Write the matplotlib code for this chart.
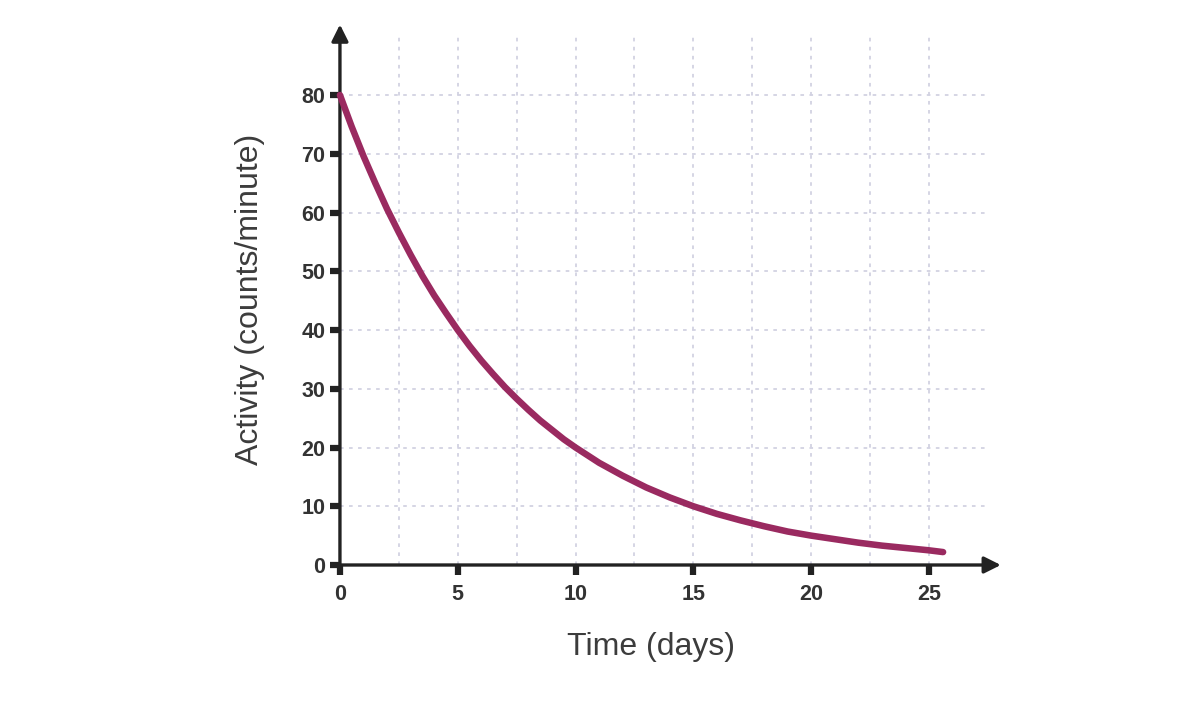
import matplotlib.pyplot as plt

# values
days = [0, 0.5, 1, 1.5, 2, 2.5, 3, 3.5, 4, 4.5, 5, 5.5, 6, 6.5, 7, 7.5, 8,
        8.5, 9, 9.5, 10, 11, 12, 13, 14, 15, 16, 17, 18, 19, 20, 21, 22,
        23, 24, 25, 25.6]
activity = [80, 74.6, 69.6, 65.0, 60.6, 56.6, 52.8, 49.2, 45.9, 42.9, 40.0,
            37.3, 34.8, 32.5, 30.3, 28.3, 26.4, 24.6, 23.0, 21.4, 20.0,
            17.4, 15.2, 13.2, 11.5, 10.0, 8.7, 7.6, 6.6, 5.7, 5.0, 4.4, 3.8,
            3.3, 2.9, 2.5, 2.2]

x_ticks = [0, 5, 10, 15, 20, 25]
y_ticks = [0, 10, 20, 30, 40, 50, 60, 70, 80]
x_grid = [2.5, 5, 7.5, 10, 12.5, 15, 17.5, 20, 22.5, 25]
y_grid = [10, 20, 30, 40, 50, 60, 70, 80]

plt.rcParams['font.family'] = ['Liberation Sans', 'DejaVu Sans']

fig = plt.figure(figsize=(12, 7.17), dpi=100)
ax = fig.add_axes([0.2774, 0.2038, 0.5576, 0.762])
ax.set_xlim(-0.3, 28.1)
ax.set_ylim(-1, 92)

grid_kw = dict(color='#d2d2e2', linewidth=1.3, linestyle=(0, (2, 3)), zorder=1)
ax.vlines(x_grid, 0, 90, **grid_kw)
ax.hlines(y_grid, 0, 27.5, **grid_kw)

# spines sit at the data origin so the ticks touch the arrows
ax.spines['left'].set_position(('data', 0))
ax.spines['bottom'].set_position(('data', 0))
for s in ax.spines.values():
    s.set_color('none')

ax.plot(days, activity, color='#9a2a60', linewidth=4.7,
        solid_capstyle='round', zorder=4)

arrow = dict(arrowstyle='-|>,head_length=1.0,head_width=0.5', color='#222222',
             lw=2.4, shrinkA=0, shrinkB=0)
ax.annotate('', xy=(0, 92), xytext=(0, -0.9), arrowprops=arrow, zorder=3)
ax.annotate('', xy=(28.05, 0), xytext=(-0.15, 0), arrowprops=arrow, zorder=3)

ax.set_xticks(x_ticks)
ax.set_yticks(y_ticks)
ax.tick_params(axis='both', direction='out', length=7.5, width=4.5,
               color='#222222', labelcolor='#333333', labelsize=15.5)
ax.tick_params(axis='x', pad=6)
ax.tick_params(axis='y', pad=3)
for lab in ax.get_xticklabels() + ax.get_yticklabels():
    lab.set_fontweight('bold')

fig.text(0.5425, 0.097, 'Time (days)', fontsize=23, color='#3c3c3c',
         ha='center', va='center')
fig.text(0.208, 0.583, 'Activity (counts/minute)', fontsize=23,
         color='#3c3c3c', rotation=90, ha='center', va='center')

fig.savefig('out.png', dpi=100)
